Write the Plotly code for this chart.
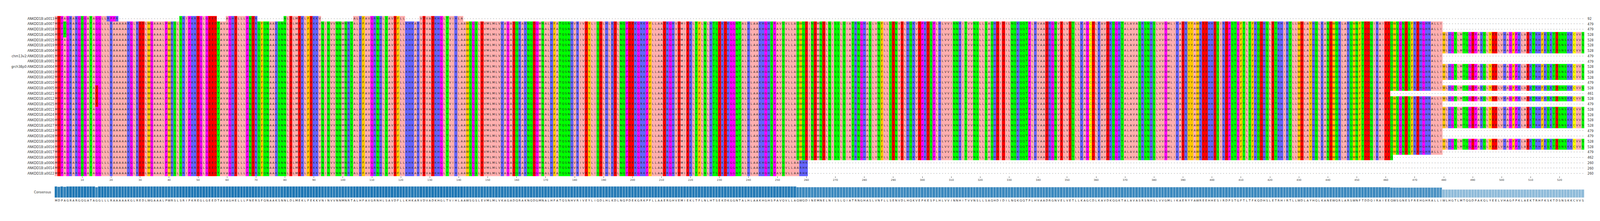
import numpy as np
import plotly.graph_objects as go

W, H = 5567, 567
FS = 0.74  # font scale for the rendered viewport

names = ["ANKDD1B:a0013", "ANKDD1B:a0007", "ANKDD1B:a0018", "ANKDD1B:a0026", "ANKDD1B:a0015",
         "ANKDD1B:a0019", "ANKDD1B:a0004", "chm13v2:ANKDD1B:a0001", "ANKDD1B:a0001",
         "grch38p0:ANKDD1B:a0004", "ANKDD1B:a0003", "ANKDD1B:a0002", "ANKDD1B:a0010",
         "ANKDD1B:a0005", "ANKDD1B:a0021", "ANKDD1B:a0012", "ANKDD1B:a0025", "ANKDD1B:a0011",
         "ANKDD1B:a0024", "ANKDD1B:a0020", "ANKDD1B:a0027", "ANKDD1B:a0023", "ANKDD1B:a0028",
         "ANKDD1B:a0008", "ANKDD1B:a0016", "ANKDD1B:a0017", "ANKDD1B:a0009", "ANKDD1B:a0006",
         "ANKDD1B:a0014", "ANKDD1B:a0022"]
lengths = [92, 479, 479, 528, 528, 528, 528, 479, 479, 528, 528, 528, 479, 528, 461,
           528, 479, 528, 528, 528, 528, 479, 479, 528, 528, 479, 462, 260, 260, 260]

# consensus sequence, in chunks
consensus = ("MDPAGRARGQGATAGGLLLRAAAAAKGLREDLWGAAALPWRSLSRIPKREGLGEEDTAVAGH"
             "ELLLPNERSFQNAAKSNNLDLMEKLFEKKVNINVVNNMNRTALHFAVGRNHLSAVDFLLKHKA"
             "RVDVADKHGLTVIHLAAWSGSLEVMLMLVKAGADQRAKNQDGMNALHFATQSNHVRIVEYLI"
             "QDLHLKDLNQPDEKGRKPFLLAAERGHVEMIEKLTFLNLHTSEKDKGGNTALHLAAKHGHSPA"
             "VQVLLAQWQDINEMNELNISSLQIATRNGHASLVNFLLSENVDLHQKVEPKESPLHLVVINNHITVVNSLLSAQHDIDILNQKQQTPLHVAADRGNVELVETLLKAGCDLKAVDKQGKTALAVA"
             "SRSNHSLVVGMLIKAERYYAWREEHHESIRDPSTGFTLTFKQDHSLETRHIRTLLWDLAYHQLKANEWQRLARSWNFTDDQIRAIEEQWSGNESFREHGHRALLIWLHGTLMTQGDPAKQLYEEL"
             "VHAGFPKLAEKTRHFKSKTDSNSKKCVVS")

# residues present in the first (short) sequence
row1_segments = [(1, 22), (44, 56), (60, 70), (80, 92), (104, 121), (127, 141)]
row1_start = "MDPAGRARGQGATAGGLLRPPR"
# point substitutions: (row index, column, residue)
variants = [(1, 4, "T"), (2, 4, "T"), (3, 4, "T"),
            (13, 15, "E"), (14, 15, "E"), (15, 15, "E"), (16, 15, "E"),
            (18, 2, "E"), (19, 2, "E"), (20, 2, "E")]
short_tail = "ARHK"  # cols 257-260 of the 260-long sequences

ncol = len(consensus)
nrow = len(names)
seqs = []
for i, L in enumerate(lengths):
    s = ["-"] * ncol
    if i == 0:
        for a, b in row1_segments:
            for c in range(a, b + 1):
                s[c - 1] = consensus[c - 1]
        for k, ch in enumerate(row1_start):
            s[k] = ch
    else:
        for c in range(L):
            s[c] = consensus[c]
        if L == 260:
            s[256:260] = list(short_tail)
    seqs.append(s)
for r, c, ch in variants:
    seqs[r][c - 1] = ch

groups = {"ILVAM": "#ffafaf", "FWY": "#ffc800", "KRH": "#6464ff", "DE": "#ff0000",
          "STNQ": "#00ff00", "PG": "#ff00ff", "C": "#ffff00"}
gkeys = list(groups)
z = np.full((nrow, ncol), np.nan)
for i, s in enumerate(seqs):
    for j, ch in enumerate(s):
        for k, g in enumerate(gkeys):
            if ch in g:
                z[i, j] = k
n = len(gkeys)
cscale = []
for k, g in enumerate(gkeys):
    cscale += [[k / n, groups[g]], [(k + 1) / n, groups[g]]]

cols = np.arange(1, ncol + 1)
rows = np.arange(1, nrow + 1)

frac = np.array([sum(seqs[i][j] == consensus[j] for i in range(nrow)) / nrow for j in range(ncol)])
heights = np.sqrt(frac)
blue = np.array([31, 119, 180])
bar_colors = ["rgb(%d,%d,%d)" % tuple((255 * (1 - f) + blue * f).astype(int)) for f in frac]

fig = go.Figure()
fig.add_trace(go.Heatmap(x=cols, y=rows, z=z, zmin=0, zmax=n, colorscale=cscale,
                         showscale=False, hoverinfo="skip"))
tx, ty, tt = [], [], []
for i, s in enumerate(seqs):
    for j, ch in enumerate(s):
        tx.append(j + 1); ty.append(i + 1); tt.append(ch)
fig.add_trace(go.Scatter(x=tx, y=ty, text=tt, mode="text", hoverinfo="skip",
                         textfont=dict(family="DejaVu Sans", size=10 * FS, color="#222")))
fig.add_trace(go.Bar(x=cols, y=heights, marker=dict(color=bar_colors, line=dict(color="white", width=0.5)),
                     width=1.0, xaxis="x2", yaxis="y2", hoverinfo="skip"))
fig.add_trace(go.Scatter(x=cols, y=[-0.27] * ncol, text=list(consensus), mode="text",
                         xaxis="x2", yaxis="y2", hoverinfo="skip",
                         textfont=dict(family="DejaVu Sans", size=10 * FS, color="#222")))

x0, x1 = 180 / W, 5523 / W
fig.update_layout(
    autosize=True, margin=dict(l=0, r=0, t=0, b=0),
    paper_bgcolor="white", plot_bgcolor="white", showlegend=False,
    xaxis=dict(domain=[x0, x1], range=[0.5, ncol + 0.5], showgrid=False, zeroline=False,
               tickvals=list(range(10, ncol + 1, 10)), ticks="outside", ticklen=3,
               tickcolor="#333", tickfont=dict(family="DejaVu Sans", size=9 * FS, color="#333"),
               anchor="y"),
    yaxis=dict(domain=[1 - 457 / H, 1 - 34 / H], range=[nrow + 0.5, 0.5], showgrid=False,
               zeroline=False, tickvals=list(rows), ticktext=names, ticks="",
               tickfont=dict(family="DejaVu Sans", size=11 * FS, color="#333")),
    xaxis2=dict(domain=[x0, x1], range=[0.5, ncol + 0.5], showgrid=False, zeroline=False,
                showticklabels=False, anchor="y2"),
    yaxis2=dict(domain=[1 - 528 / H, 1 - 484 / H], range=[-0.48, 1], showgrid=False,
                zeroline=False, showticklabels=False),
    bargap=0,
)
for i, L in enumerate(lengths):
    fig.add_annotation(x=5532 / W, xref="paper", y=i + 1, yref="y", text=str(L),
                       showarrow=False, xanchor="left",
                       font=dict(family="DejaVu Sans", size=11 * FS, color="#333"))
fig.add_annotation(x=170 / W, xref="paper", y=0.5, yref="y2", text="Consensus",
                   showarrow=False, xanchor="right", font=dict(family="DejaVu Sans", size=11 * FS, color="#333"))

fig.write_html("out.html", default_width="100%", default_height="100%")
